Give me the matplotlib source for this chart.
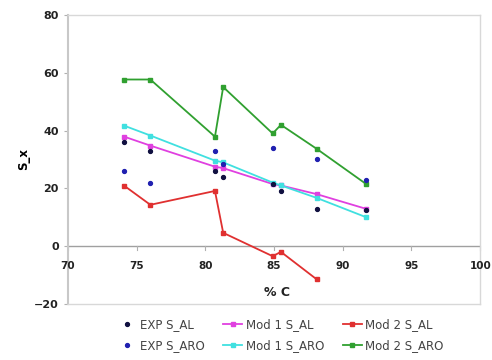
import numpy as np
import matplotlib
matplotlib.use("Agg")
import matplotlib.pyplot as plt

plt.rcParams['font.family'] = ['DejaVu Sans']

carbon = [74.1, 76.0, 80.7, 81.3, 84.9, 85.5, 88.1, 91.7]
exp_al = [36.0, 33.0, 26.0, 24.0, 21.5, 19.0, 13.0, 12.5]
exp_aro = [26.0, 22.0, 33.0, 28.5, 34.0, np.nan, 30.0, 23.0]
mod1_al = [37.9, 34.8, 27.5, 27.0, 21.5, 21.0, 18.0, 12.9]
mod1_aro = [41.7, 38.3, 29.6, 29.0, 22.0, 21.0, 16.7, 10.0]
mod2_al = [20.9, 14.3, 19.1, 4.6, -3.5, -2.0, -11.5, np.nan]
mod2_aro = [57.7, 57.7, 37.9, 55.1, 39.0, 42.0, 33.7, 21.5]

xticks = [70, 75, 80, 85, 90, 95, 100]
yticks = [-20, 0, 20, 40, 60, 80]

fig = plt.figure(figsize=(4.92, 3.6), dpi=100)
ax = fig.add_axes([0.138, 0.156, 0.838, 0.802])

lw = 1.3
ms = 2.6
h_m1al, = ax.plot(carbon, mod1_al, '-s', color='#e040e0', lw=lw, ms=ms, label='Mod 1 S_AL')
h_m1aro, = ax.plot(carbon, mod1_aro, '-s', color='#40e0e0', lw=lw, ms=ms, label='Mod 1 S_ARO')
h_m2al, = ax.plot(carbon, mod2_al, '-s', color='#e03030', lw=lw, ms=ms, label='Mod 2 S_AL')
h_m2aro, = ax.plot(carbon, mod2_aro, '-s', color='#30a030', lw=lw, ms=ms, label='Mod 2 S_ARO')
h_eal, = ax.plot(carbon, exp_al, 'o', color='#101040', ms=2.8, ls='none', label='EXP S_AL')
h_earo, = ax.plot(carbon, exp_aro, 'o', color='#2020b0', ms=2.8, ls='none', label='EXP S_ARO')

ax.set_xlim(70, 100)
ax.set_ylim(-20, 80)
ax.set_xticks(xticks)
ax.set_yticks(yticks)

for s in ['top', 'right', 'bottom']:
    ax.spines[s].set_color('#d8d8d8')
    ax.spines[s].set_linewidth(1.0)
ax.spines['left'].set_color('#c8c8c8')
ax.spines['left'].set_linewidth(1.5)
ax.axhline(0, color='#a0a0a0', lw=1.0, zorder=1)

ax.tick_params(axis='x', length=0, labelsize=8, pad=0, colors='#222222')
ax.tick_params(axis='y', length=3, labelsize=8, colors='#222222', direction='out', width=0.8)
ax.tick_params(axis='y', color='#b0b0b0')
ax.set_xticklabels([])
for xv in xticks:
    ax.text(xv, -5.0, str(xv), ha='center', va='top', fontsize=7.5, fontweight='bold', color='#222222')
    ax.plot([xv, xv], [0, -1.2], color='#b0b0b0', lw=0.8, clip_on=False)
for t in ax.get_yticklabels():
    t.set_fontweight('bold')

ax.text(85.2, -13.8, '% C', ha='center', va='top', fontsize=9, fontweight='bold', color='#222222')
ax.set_ylabel('S_x', fontsize=8.5, fontweight='bold', labelpad=3)

handles = [h_eal, h_earo, h_m1al, h_m1aro, h_m2al, h_m2aro]
leg = fig.legend(handles=handles, labels=[h.get_label() for h in handles], ncol=3,
                 loc='center', bbox_to_anchor=(0.57, 0.0695), frameon=False, fontsize=8.5,
                 handlelength=1.6, columnspacing=1.6, labelspacing=0.65, handletextpad=0.3)
for t in leg.get_texts():
    t.set_color('#444444')

fig.savefig('out.png', dpi=100)
